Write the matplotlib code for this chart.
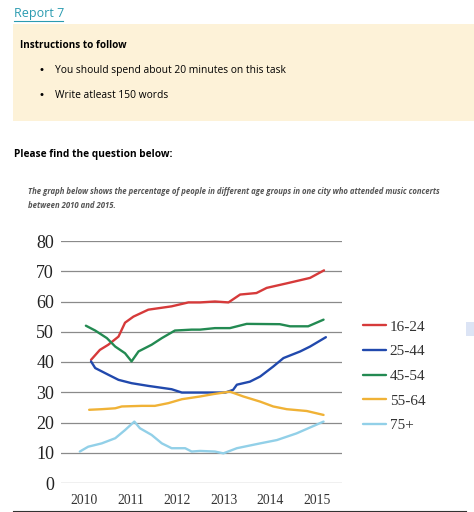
import numpy as np
import matplotlib
matplotlib.use("Agg")
import matplotlib.pyplot as plt
from matplotlib.patches import Rectangle
from matplotlib.lines import Line2D

# data (year, percent)
x_1624 = [2010.15, 2010.34, 2010.52, 2010.74, 2010.88, 2011.06, 2011.38, 2011.88,
          2012.24, 2012.49, 2012.81, 2013.1, 2013.35, 2013.7, 2013.92, 2014.35,
          2014.85, 2015.15]
y_1624 = [40.7, 44, 45.7, 48.4, 53, 55, 57.3, 58.4, 59.7, 59.7, 60, 59.7, 62.3,
          62.8, 64.5, 66, 67.8, 70.3]

x_2544 = [2010.15, 2010.24, 2010.52, 2010.74, 2011.02, 2011.38, 2011.88, 2012.1,
          2012.49, 2012.81, 2013.03, 2013.2, 2013.28, 2013.56, 2013.78, 2014.06,
          2014.28, 2014.64, 2014.85, 2015.19]
y_2544 = [40.2, 38, 35.8, 34.1, 33, 32.1, 31, 29.9, 29.9, 29.9, 29.9, 30.8, 32.5,
          33.5, 35.2, 38.5, 41.3, 43.5, 45.1, 48.2]

x_4554 = [2010.04, 2010.24, 2010.49, 2010.67, 2010.88, 2011.02, 2011.17, 2011.45,
          2011.67, 2011.95, 2012.31, 2012.49, 2012.81, 2013.13, 2013.49, 2014.2,
          2014.42, 2014.81, 2015.14]
y_4554 = [52, 50.4, 47.9, 45.1, 42.9, 40.2, 43.5, 45.7, 47.9, 50.4, 50.7, 50.7,
          51.2, 51.2, 52.6, 52.5, 51.8, 51.8, 54]

x_5564 = [2010.11, 2010.38, 2010.67, 2010.81, 2011.24, 2011.52, 2011.81, 2012.1,
          2012.49, 2012.78, 2013.13, 2013.42, 2013.78, 2014.06, 2014.35, 2014.78,
          2015.14]
y_5564 = [24.2, 24.4, 24.7, 25.3, 25.5, 25.5, 26.4, 27.7, 28.6, 29.4, 30.2, 28.6,
          26.9, 25.3, 24.4, 23.8, 22.5]

x_75 = [2009.91, 2010.09, 2010.38, 2010.67, 2010.88, 2011.08, 2011.2, 2011.45,
        2011.67, 2011.88, 2012.17, 2012.31, 2012.49, 2012.81, 2012.99, 2013.28,
        2013.78, 2014.14, 2014.56, 2015.14]
y_75 = [10.4, 12, 13.1, 14.8, 17.5, 20.3, 18.1, 15.9, 13.1, 11.5, 11.5, 10.4, 10.6,
        10.4, 9.8, 11.5, 13.1, 14.2, 16.4, 20.3]

labels = ["16-24", "25-44", "45-54", "55-64", "75+"]
colors = ["#d63a3a", "#2149ad", "#238a52", "#f0b236", "#92d0e8"]
years = [2010, 2011, 2012, 2013, 2014, 2015]
yticks = [0, 10, 20, 30, 40, 50, 60, 70, 80]

W, H = 474, 512
fig = plt.figure(figsize=(W / 100, H / 100), dpi=100)
fig.patch.set_facecolor("white")

# header section
fig.text(14 / W, 1 - 14 / H, "Report 7", color="#2a9bb0", fontsize=9,
         family="Open Sans", va="center", ha="left")
fig.add_artist(Line2D([14 / W, 63 / W], [1 - 21 / H, 1 - 21 / H],
                      color="#2a9bb0", lw=0.8))
fig.add_artist(Rectangle((13 / W, 1 - 121 / H), (W - 13) / W, 97 / H,
                         transform=fig.transFigure, facecolor="#fdf2d8",
                         edgecolor="none"))
fig.text(20 / W, 1 - 46 / H, "Instructions to follow", fontsize=7.1,
         family="Open Sans", weight="bold", va="center")
for yy, txt in [(70, "You should spend about 20 minutes on this task"),
                (95, "Write atleast 150 words")]:
    fig.text(38 / W, 1 - yy / H, "\u2022", fontsize=7.5, va="center")
    fig.text(55 / W, 1 - yy / H, txt, fontsize=7.4, family="Open Sans", va="center")

fig.text(14 / W, 1 - 155 / H, "Please find the question below:", fontsize=7.3,
         family="Open Sans", weight="bold", va="center")
fig.text(28 / W, 1 - 192 / H,
         "The graph below shows the percentage of people in different age groups "
         "in one city who attended music concerts", fontsize=5.6,
         family="Open Sans", style="italic", weight="bold", color="#555555",
         va="center")
fig.text(28 / W, 1 - 205 / H, "between 2010 and 2015.", fontsize=5.6,
         family="Open Sans", style="italic", weight="bold", color="#555555",
         va="center")

# chart
ax = fig.add_axes([61 / W, (H - 483) / H, 281 / W, 242 / H])
series = [(x_1624, y_1624), (x_2544, y_2544), (x_4554, y_4554),
          (x_5564, y_5564), (x_75, y_75)]
for (xs, ys), lab, c in zip(series, labels, colors):
    ax.plot(xs, ys, color=c, lw=1.7, label=lab, solid_capstyle="round")

ax.set_xlim(2009.506, 2015.536)
ax.set_ylim(0, 80)
ax.set_yticks(yticks)
ax.set_xticks(years)
ax.set_xticklabels([str(y) for y in years], fontsize=9.8, family="Liberation Serif",
                   color="#333333")
ax.set_yticklabels([str(v) for v in yticks], fontsize=13,
                   family="Liberation Serif", color="#222222")
ax.tick_params(length=0)
ax.tick_params(axis="y", pad=5)
ax.tick_params(axis="x", pad=8)
ax.yaxis.grid(True, color="#8a8a8a", lw=0.9)
ax.set_axisbelow(True)
for s in ax.spines.values():
    s.set_visible(False)

leg = ax.legend(loc="upper left", bbox_to_anchor=(363 / W, 1 - 320 / H),
                bbox_transform=fig.transFigure, frameon=False,
                prop={"family": "Liberation Serif", "size": 11},
                handlelength=1.5, handletextpad=0.25, labelspacing=0.72,
                borderpad=0, borderaxespad=0)
for t in leg.get_texts():
    t.set_color("#333333")

# small artifact at right and bottom rule
fig.add_artist(Rectangle((466 / W, 1 - 336 / H), 8 / W, 14 / H,
                         transform=fig.transFigure, facecolor="#dce4f5",
                         edgecolor="none"))
fig.add_artist(Line2D([13 / W, 466 / W], [1 - 510.5 / H, 1 - 510.5 / H],
                      color="#333333", lw=0.8))

fig.savefig("out.png", dpi=100)
